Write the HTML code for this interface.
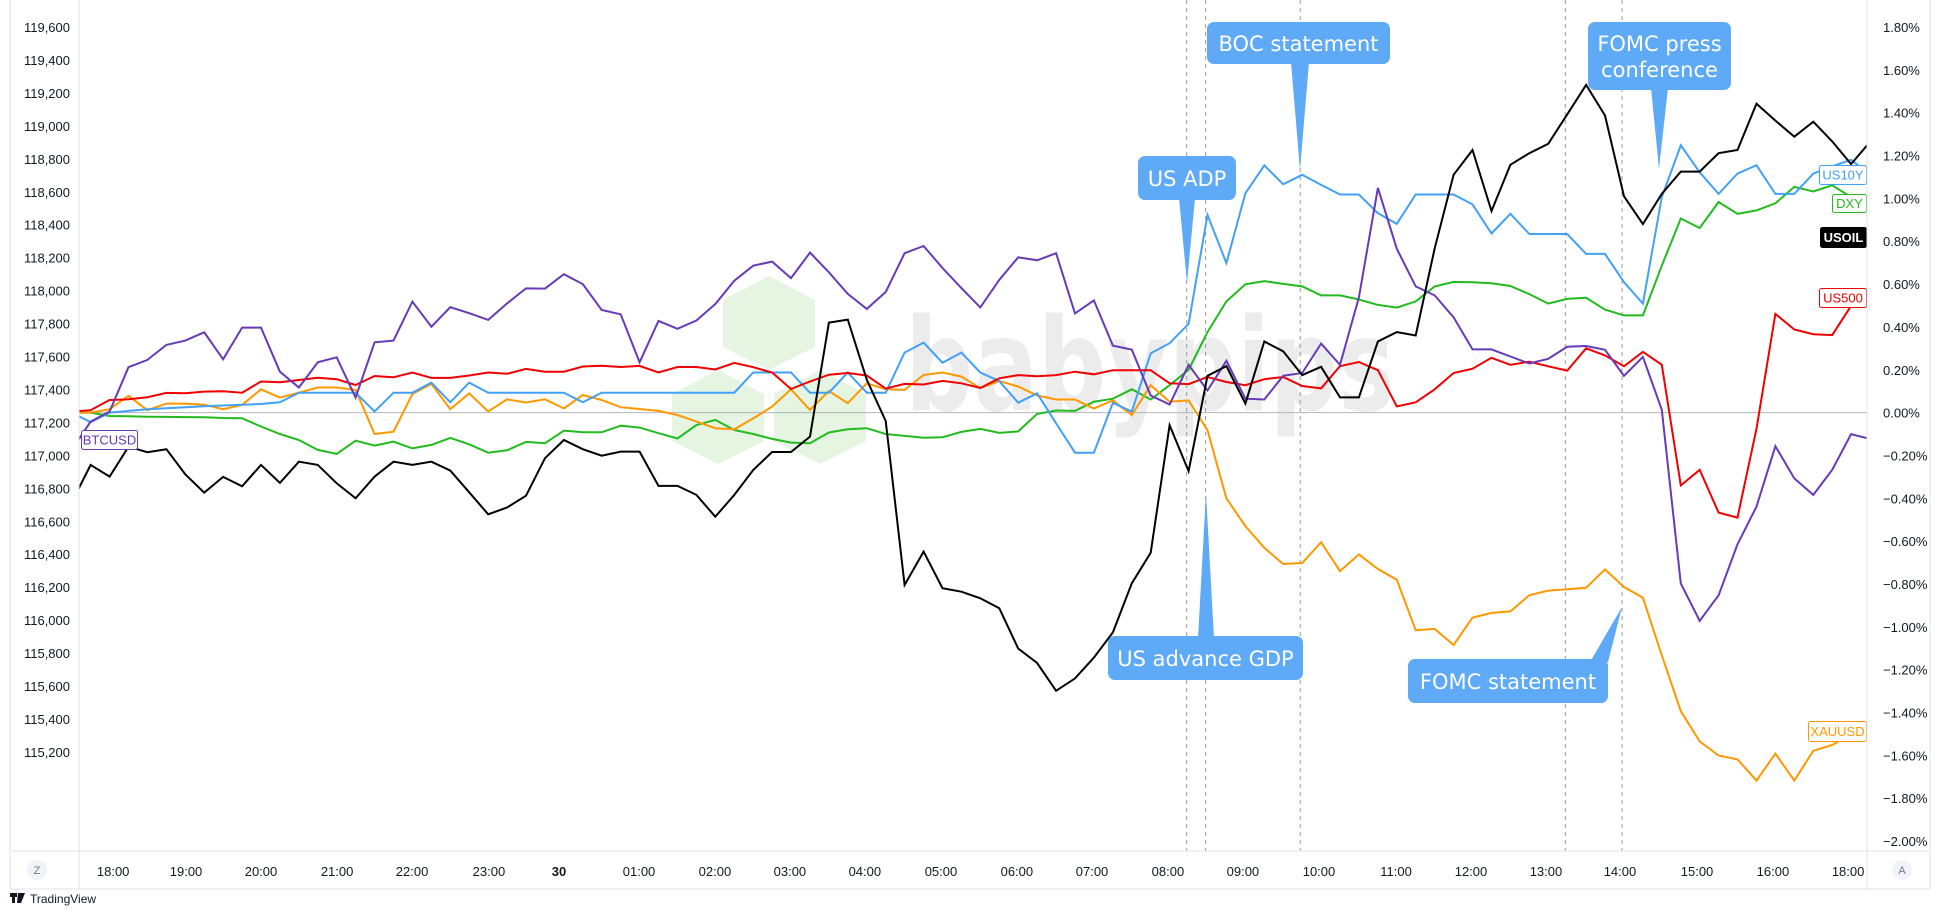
<!DOCTYPE html>
<html><head><meta charset="utf-8"><style>
html,body{margin:0;padding:0;background:#fff;}
svg{display:block;font-family:"Liberation Sans",sans-serif;}
</style></head><body>
<svg id="chart" width="1940" height="917" viewBox="0 0 1940 917" xmlns="http://www.w3.org/2000/svg">
<defs><clipPath id="plotclip"><rect x="79" y="0" width="1788" height="851"/></clipPath></defs>
<rect x="0" y="0" width="1940" height="917" fill="#fff"/>
<g>
<polygon points="769,276 815,300 815,347 769,370 723,347 723,300" fill="#e5f5e2"/>
<polygon points="718,370 764,394 764,441 718,464 672,441 672,394" fill="#e5f5e2"/>
<polygon points="820,370 866,394 866,441 820,464 774,441 774,394" fill="#e5f5e2"/>
<text x="905" y="410" font-size="128" font-weight="bold" fill="#ececec" textLength="490" lengthAdjust="spacingAndGlyphs" font-family="DejaVu Sans, sans-serif">babypips</text>
</g>
<g id="grid"></g>
<g id="series" clip-path="url(#plotclip)"></g>
<g id="annot"></g>
<g id="axes"></g>
</svg>
<script>
const NS="http://www.w3.org/2000/svg";
const svg=document.getElementById('chart');
// ---- data (percent change) ----
const seriesNames=["DXY","XAUUSD","US10Y","US500","BTCUSD","USOIL"];
const dxy=[0,0,-0.016,-0.017,-0.019,-0.020,-0.021,-0.022,-0.025,-0.026,-0.065,-0.100,-0.128,-0.174,-0.193,-0.131,-0.154,-0.136,-0.167,-0.151,-0.118,-0.148,-0.187,-0.176,-0.137,-0.143,
-0.084,-0.092,-0.092,-0.061,-0.070,-0.096,-0.121,-0.058,-0.034,-0.081,-0.100,-0.123,-0.140,-0.143,-0.093,-0.078,-0.073,-0.100,-0.109,-0.117,-0.115,-0.090,-0.076,-0.095,
-0.088,-0.006,0.010,0.008,0.051,0.065,0.109,0.061,0.128,0.200,0.376,0.519,0.599,0.614,0.601,0.589,0.547,0.547,0.528,0.503,0.490,0.519,0.589,0.610,
0.609,0.604,0.591,0.553,0.509,0.531,0.536,0.481,0.454,0.454,0.686,0.906,0.862,0.983,0.928,0.944,0.977,1.054,1.032,1.061,1.006,0.977];
const xauusd=[0,0,0.016,0.078,0.011,0.042,0.042,0.037,0.016,0.036,0.109,0.070,0.093,0.117,0.117,0.106,-0.100,-0.089,0.087,0.134,0.016,0.090,0.005,0.062,0.047,0.062,
0.019,0.082,0.059,0.025,0.017,0.008,-0.011,-0.042,-0.073,-0.078,-0.027,0.028,0.109,0.012,0.101,0.044,0.137,0.109,0.106,0.176,0.187,0.168,0.114,0.147,
0.122,0.080,0.061,0.061,0.019,0.057,-0.011,0.128,0.051,0.057,-0.082,-0.400,-0.530,-0.631,-0.707,-0.702,-0.605,-0.740,-0.662,-0.730,-0.780,-1.016,-1.010,-1.085,
-0.957,-0.935,-0.928,-0.853,-0.831,-0.825,-0.818,-0.732,-0.814,-0.864,-1.133,-1.394,-1.535,-1.601,-1.619,-1.718,-1.592,-1.718,-1.579,-1.552,-1.50,-1.486];
const us10y=[0,-0.045,0,0.008,0.016,0.020,0.025,0.030,0.033,0.037,0.040,0.048,0.093,0.093,0.093,0.093,0.005,0.093,0.093,0.140,0.048,0.140,0.093,0.093,0.093,0.093,
0.093,0.048,0.093,0.093,0.093,0.093,0.093,0.093,0.093,0.093,0.187,0.187,0.187,0.093,0.093,0.187,0.093,0.093,0.280,0.327,0.233,0.280,0.187,0.147,
0.046,0.090,-0.050,-0.187,-0.187,0.046,0.004,0.277,0.324,0.414,0.923,0.698,1.024,1.154,1.066,1.110,1.063,1.018,1.018,0.931,0.881,1.018,1.018,1.018,
0.972,0.836,0.928,0.834,0.834,0.834,0.741,0.741,0.609,0.509,1.006,1.248,1.122,1.021,1.116,1.155,1.021,1.021,1.116,1.15,1.18,1.11];
const us500=[0.005,0.011,0.059,0.062,0.072,0.092,0.090,0.098,0.100,0.093,0.145,0.142,0.152,0.163,0.156,0.129,0.171,0.165,0.187,0.162,0.162,0.173,0.187,0.181,0.204,0.191,
0.191,0.215,0.219,0.213,0.218,0.187,0.213,0.213,0.201,0.232,0.212,0.187,0.110,0.145,0.177,0.185,0.173,0.112,0.134,0.131,0.148,0.137,0.115,0.160,
0.175,0.170,0.175,0.191,0.179,0.198,0.198,0.198,0.137,0.133,0.166,0.143,0.128,0.156,0.166,0.124,0.113,0.217,0.236,0.198,0.029,0.048,0.109,0.185,
0.205,0.256,0.223,0.238,0.216,0.196,0.300,0.267,0.216,0.284,0.223,-0.340,-0.267,-0.467,-0.490,-0.075,0.461,0.388,0.366,0.362,0.498,0.536];
const btcusd=[-0.174,-0.042,0.005,0.212,0.246,0.316,0.336,0.375,0.249,0.397,0.397,0.191,0.117,0.235,0.258,0.070,0.328,0.336,0.518,0.401,0.492,0.464,0.433,0.510,0.580,0.579,
0.646,0.600,0.479,0.459,0.235,0.428,0.391,0.430,0.507,0.616,0.686,0.705,0.628,0.747,0.655,0.554,0.484,0.563,0.744,0.778,0.675,0.581,0.491,0.62,
0.725,0.711,0.744,0.463,0.524,0.313,0.294,0.080,0.038,0.223,0.103,0.242,0.065,0.061,0.172,0.185,0.322,0.223,0.538,1.049,0.765,0.589,0.547,0.445,
0.295,0.295,0.262,0.229,0.251,0.307,0.311,0.293,0.172,0.260,0.013,-0.798,-0.972,-0.853,-0.615,-0.439,-0.157,-0.307,-0.384,-0.267,-0.101,-0.123];
const usoil=[-0.42,-0.244,-0.299,-0.159,-0.185,-0.171,-0.288,-0.374,-0.300,-0.344,-0.244,-0.328,-0.229,-0.244,-0.330,-0.400,-0.299,-0.229,-0.244,-0.229,-0.271,-0.372,-0.475,-0.443,-0.388,-0.213,
-0.128,-0.171,-0.201,-0.182,-0.182,-0.342,-0.342,-0.384,-0.486,-0.384,-0.268,-0.184,-0.184,-0.112,0.420,0.434,0.153,-0.039,-0.805,-0.649,-0.820,-0.836,-0.867,-0.913,
-1.102,-1.169,-1.299,-1.241,-1.144,-1.026,-0.797,-0.654,-0.059,-0.273,0.172,0.217,0.042,0.332,0.286,0.175,0.214,0.071,0.071,0.332,0.376,0.360,0.767,1.110,
1.226,0.941,1.157,1.211,1.255,1.392,1.530,1.387,1.010,0.880,1.021,1.125,1.125,1.211,1.226,1.442,1.363,1.288,1.358,1.266,1.160,1.264];
const pctTicks=[1.8,1.6,1.4,1.2,1.0,0.8,0.6,0.4,0.2,0,-0.2,-0.4,-0.6,-0.8,-1.0,-1.2,-1.4,-1.6,-1.8,-2.0];
const priceTicks=[119600,119400,119200,119000,118800,118600,118400,118200,118000,117800,117600,117400,117200,117000,116800,116600,116400,116200,116000,115800,115600,115400,115200];
const timeLabels=["18:00","19:00","20:00","21:00","22:00","23:00","30","01:00","02:00","03:00","04:00","05:00","06:00","07:00","08:00","09:00","10:00","11:00","12:00","13:00","14:00","15:00","16:00","18:00"];
const timeIdx=[2.19,6.04,10.0,14.02,17.98,22.04,25.74,29.97,33.98,37.94,41.9,45.92,49.93,53.9,57.91,61.87,65.89,69.96,73.92,77.88,81.79,85.86,89.87,93.84];
const eventIdx=[58.9,59.9,64.9,78.9,81.9];
// ---- scales ----
const X0=71.7, DX=18.93;
const xS=i=>X0+DX*i;
const yS=v=>412.6-214.2*v;
const yP=p=>27+(119600-p)/200*32.95;
function mk(tag,attrs,parent){const e=document.createElementNS(NS,tag);for(const k in attrs)e.setAttribute(k,attrs[k]);(parent||svg).appendChild(e);return e;}
const grid=document.getElementById('grid'),ser=document.getElementById('series'),ann=document.getElementById('annot'),axes=document.getElementById('axes');
const zl=mk('line',{x1:79,x2:1867,y1:yS(0),y2:yS(0),stroke:'#b2b5be','stroke-width':1},grid);


eventIdx.forEach(e=>{const l=mk('line',{x1:xS(e),x2:xS(e),y1:0,y2:851,stroke:'#9a9a9a','stroke-width':1,'stroke-dasharray':'4,4'},grid);

});
const seriesData=[dxy,xauusd,us10y,us500,btcusd,usoil];
const colors=['#22bb1e','#ff9800','#42a0f5','#f00000','#673ab7','#000000'];
seriesData.forEach((d,k)=>{const pts=d.map((v,i)=>xS(i).toFixed(1)+','+yS(v).toFixed(1)).join(' ');
const p=mk('polyline',{points:pts,fill:'none',stroke:colors[k],'stroke-width':2,'stroke-linejoin':'miter'},ser);

});
const CAL='#5eaaf6';
function callout(name,x,y,w,h,lines,tri){const g=mk('g',{},ann);


mk('polygon',{points:tri,fill:CAL},g);
mk('rect',{x:x,y:y,width:w,height:h,rx:7,fill:CAL},g);
lines.forEach((t,j)=>{const tx=mk('text',{x:x+w/2,y:y+h/2+8+(j-(lines.length-1)/2)*26,'text-anchor':'middle','font-size':21,fill:'#fff','font-family':'DejaVu Sans, sans-serif'},g);tx.textContent=t;});}
callout('us-adp-callout',1138,156,98,44,['US ADP'],'1179,198 1195,198 1187,283');
callout('boc-statement-callout',1207,22,183,42,['BOC statement'],'1291,62 1309,62 1300,170');
callout('us-advance-gdp-callout',1108,636,195,44,['US advance GDP'],'1198,638 1214,638 1206,493');
callout('fomc-statement-callout',1408,659,200,44,['FOMC statement'],'1590,662 1608,662 1622,607');
callout('fomc-press-conference-callout',1588,22,143,68,['FOMC press','conference'],'1651,88 1668,88 1659,169');
function tag(name,x,y,w,h,text,col,filled){const g=mk('g',{},axes);


mk('rect',{x:x+0.5,y:y+0.5,width:w,height:h,rx:2,fill:filled?col:'#fff',stroke:col,'stroke-width':1},g);
const t=mk('text',{x:x+w/2+0.5,y:y+h/2+5,'text-anchor':'middle','font-size':13,fill:filled?'#fff':col,'font-weight':filled?'bold':'normal'},g);t.textContent=text;}
tag('btcusd-label',81,430,56,19,'BTCUSD','#673ab7',false);
tag('us10y-label',1819,165,47,19,'US10Y','#42a0f5',false);
tag('dxy-label',1832,194,34,18,'DXY','#22bb1e',false);
tag('usoil-label',1820,227,46,20,'USOIL','#000000',true);
tag('us500-label',1819,288,47,19,'US500','#f00000',false);
tag('xauusd-label',1808,721,58,20,'XAUUSD','#ff9800',false);
[[79,0,79,889],[1867,0,1867,889],[10,851,1930,851],[10,889,1930,889],[10,0,10,889],[1930,0,1930,889]].forEach(a=>{const l=mk('line',{x1:a[0],y1:a[1],x2:a[2],y2:a[3],stroke:'#e0e3eb','stroke-width':1},axes);

});
pctTicks.forEach(v=>{const t=mk('text',{x:1883,y:yS(v)+5,'font-size':13,fill:'#131722'},axes);


t.textContent=(v<0?'\u2212'+Math.abs(v).toFixed(2):v.toFixed(2))+'%';});
priceTicks.forEach(p=>{const t=mk('text',{x:70,y:yP(p)+5,'font-size':13,fill:'#131722','text-anchor':'end'},axes);


t.textContent=p.toLocaleString('en-US');});
timeLabels.forEach((s,k)=>{const t=mk('text',{x:xS(timeIdx[k]),y:876,'font-size':13,fill:'#131722','text-anchor':'middle','font-weight':s==='30'?'bold':'normal'},axes);


t.textContent=s;});
[[37,'Z','timezone-button'],[1902,'A','auto-scale-button']].forEach(b=>{const g=mk('g',{},axes);


mk('circle',{cx:b[0],cy:870,r:10,fill:'#f0f3fa'},g);
const t=mk('text',{x:b[0],y:874,'text-anchor':'middle','font-size':11,fill:'#787b86'},g);t.textContent=b[1];});
const lg=mk('g',{},axes);


mk('rect',{x:10,y:893,width:7,height:4,fill:'#131722'},lg);
mk('rect',{x:12,y:893,width:3,height:10,fill:'#131722'},lg);
mk('polygon',{points:'18,893 25,893 21,903 17,903',fill:'#131722'},lg);
const lt=mk('text',{x:30,y:903,'font-size':12,fill:'#131722'},lg);lt.textContent='TradingView';
</script>
</body></html>
